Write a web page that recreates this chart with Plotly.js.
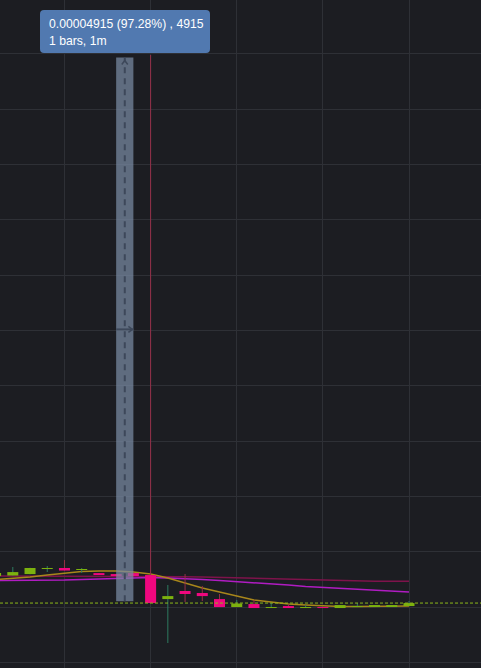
<!DOCTYPE html>
<html>
<head>
<meta charset="utf-8">
<script src="https://cdn.plot.ly/plotly-3.0.1.min.js"></script>
<style>
html,body{margin:0;padding:0;background:#1c1d22;}
#chart{width:481px;height:668px;}
</style>
</head>
<body>
<div id="chart"></div>
<script>
// bar index (1-minute bars)
const bars = [-1,0,1,2,3,4,5,6,7,8,9,10,11,12,13,14,15,16,17,18,19,20,21,22,23];
const opens  = [5.280e-5,5.285e-5,5.298e-5,5.344e-5,5.353e-5,5.335e-5,5.307e-5,5.298e-5,5.307e-5,5.289e-5,5.072e-5,5.145e-5,5.127e-5,5.072e-5,5.000e-5,5.027e-5,4.991e-5,5.009e-5,4.991e-5,5.000e-5,4.991e-5,5.000e-5,5.000e-5,5.000e-5,5.009e-5];
const highs  = [5.316e-5,5.362e-5,5.355e-5,5.371e-5,5.425e-5,5.353e-5,5.307e-5,5.298e-5,5.307e-5,9.990e-5,5.199e-5,5.298e-5,5.190e-5,5.118e-5,5.063e-5,5.063e-5,5.036e-5,5.027e-5,5.018e-5,5.000e-5,5.018e-5,5.036e-5,5.018e-5,5.018e-5,5.054e-5];
const lows   = [5.271e-5,5.285e-5,5.296e-5,5.316e-5,5.330e-5,5.307e-5,5.289e-5,5.280e-5,5.280e-5,5.036e-5,4.675e-5,5.045e-5,5.054e-5,5.000e-5,5.000e-5,4.991e-5,4.991e-5,4.991e-5,4.991e-5,4.991e-5,4.991e-5,5.000e-5,5.000e-5,5.000e-5,5.009e-5];
const closes = [5.307e-5,5.316e-5,5.353e-5,5.353e-5,5.330e-5,5.344e-5,5.289e-5,5.280e-5,5.280e-5,5.036e-5,5.099e-5,5.118e-5,5.099e-5,5.000e-5,5.032e-5,4.991e-5,5.000e-5,4.991e-5,5.000e-5,4.991e-5,5.018e-5,5.009e-5,5.018e-5,5.018e-5,5.036e-5];
// moving averages
const maGold    = [5.249e-5,5.258e-5,5.271e-5,5.289e-5,5.307e-5,5.321e-5,5.325e-5,5.325e-5,5.316e-5,5.298e-5,5.262e-5,5.217e-5,5.172e-5,5.136e-5,5.099e-5,5.063e-5,5.045e-5,5.027e-5,5.018e-5,5.009e-5,5.005e-5,5.005e-5,5.005e-5,5.005e-5,5.009e-5];
const maMagenta = [5.240e-5,5.240e-5,5.240e-5,5.244e-5,5.244e-5,5.249e-5,5.253e-5,5.258e-5,5.262e-5,5.267e-5,5.262e-5,5.258e-5,5.249e-5,5.240e-5,5.231e-5,5.217e-5,5.208e-5,5.199e-5,5.185e-5,5.176e-5,5.167e-5,5.158e-5,5.149e-5,5.145e-5,5.136e-5];
const maCrimson = [5.280e-5,5.280e-5,5.280e-5,5.280e-5,5.280e-5,5.280e-5,5.280e-5,5.280e-5,5.280e-5,5.280e-5,5.278e-5,5.274e-5,5.271e-5,5.267e-5,5.262e-5,5.258e-5,5.253e-5,5.249e-5,5.244e-5,5.242e-5,5.238e-5,5.235e-5,5.234e-5,5.233e-5,5.232e-5];
// measure tool
const measureBars = [6, 7];
const measurePrices = [5.052e-5, 9.967e-5];
const measureLabel = ["0.00004915 (97.28%) , 4915", "1 bars, 1m"];

const UP = '#7cb20e', DOWN = '#f0077f';
const UP_WICK = '#2e7b60', DOWN_WICK = '#963048';
const isUp = bars.map((b,i)=>closes[i]>=opens[i]);

const traces = [];
[[maCrimson,'#7e134b'],[maMagenta,'#b01cc2'],[maGold,'#a8861b']].forEach(([d,c])=>{
  traces.push({type:'scatter',mode:'lines',x:bars,y:d,line:{color:c,width:1.5},hoverinfo:'skip'});
});
// wicks (thin bars) and bodies on an overlaying axis so candles sit above the averages
traces.push({type:'bar',x:bars,yaxis:'y2',
  base:lows, y:bars.map((b,i)=>highs[i]-lows[i]), width:1/17.2,
  marker:{color:isUp.map(u=>u?UP_WICK:DOWN_WICK),line:{width:0}},hoverinfo:'skip'});
traces.push({type:'bar',x:bars,yaxis:'y2',
  base:bars.map((b,i)=>Math.min(opens[i],closes[i])),
  y:bars.map((b,i)=>Math.abs(closes[i]-opens[i])),
  width:0.64,
  marker:{color:isUp.map(u=>u?UP:DOWN),line:{width:0}},
  hoverinfo:'skip'});

const lastClose = closes[closes.length-1];
const mx = (measureBars[0]+measureBars[1])/2;
const my = (measurePrices[0]+measurePrices[1])/2;
const tool = '#3d485a';
const shapes = [
  {type:'line',xref:'paper',x0:0,x1:1,yref:'y',y0:lastClose,y1:lastClose,line:{color:'#8db81a',width:1,dash:'3px,2px'},layer:'above'},
  {type:'rect',xref:'x',yref:'y',x0:measureBars[0],x1:measureBars[1],y0:measurePrices[0],y1:measurePrices[1],fillcolor:'rgba(122,138,164,0.72)',line:{width:0},layer:'above'},
  {type:'line',xref:'x',yref:'y',x0:mx,x1:mx,y0:measurePrices[0],y1:measurePrices[1],line:{color:tool,width:2,dash:'6px,5px'},layer:'above'},
  {type:'path',xref:'x',yref:'y',xsizemode:'pixel',ysizemode:'pixel',xanchor:mx,yanchor:measurePrices[1],path:'M -3,-7 L 0,-3 L 3,-7',line:{color:tool,width:1.5},layer:'above'},
  {type:'line',xref:'x',yref:'y',x0:measureBars[0],x1:measureBars[1],y0:my,y1:my,line:{color:tool,width:2},layer:'above'},
  {type:'path',xref:'x',yref:'y',xsizemode:'pixel',ysizemode:'pixel',xanchor:measureBars[1],yanchor:my,path:'M -5,3 L -1,0 L -5,-3',line:{color:tool,width:1.5},layer:'above'},
  {type:'path',xref:'paper',yref:'paper',xsizemode:'pixel',ysizemode:'pixel',xanchor:0,yanchor:1,
   path:'M 44,-10 L 206,-10 Q 210,-10 210,-14 L 210,-49 Q 210,-53 206,-53 L 44,-53 Q 40,-53 40,-49 L 40,-14 Q 40,-10 44,-10 Z',
   fillcolor:'#5179b0',line:{width:0},layer:'above'}
];
const annotations = measureLabel.map((t,i)=>({
  xref:'paper',yref:'paper',x:47/481,y:1-(24+i*17)/668,xanchor:'left',yanchor:'middle',
  text:t,showarrow:false,font:{family:'Liberation Sans, Arial, sans-serif',size:12.2,color:'#ffffff'}
}));

const yRange = [4.449e-5,10.487e-5];
const layout = {
  width:481,height:668,margin:{l:0,r:0,t:0,b:0},
  paper_bgcolor:'#1c1d22',plot_bgcolor:'#1c1d22',showlegend:false,barmode:'overlay',
  xaxis:{range:[-0.743,27.18],tick0:3,dtick:5,showgrid:true,gridcolor:'#2e3036',gridwidth:1,zeroline:false,showticklabels:false,showline:false,fixedrange:true},
  yaxis:{range:yRange,tick0:0,dtick:5e-6,showgrid:true,gridcolor:'#2e3036',gridwidth:1,zeroline:false,showticklabels:false,showline:false,fixedrange:true},
  yaxis2:{range:yRange,overlaying:'y',showgrid:false,zeroline:false,showticklabels:false,showline:false,fixedrange:true},
  shapes:shapes,annotations:annotations,hovermode:false
};
Plotly.newPlot('chart',traces,layout,{staticPlot:true,displayModeBar:false});
</script>
</body>
</html>
